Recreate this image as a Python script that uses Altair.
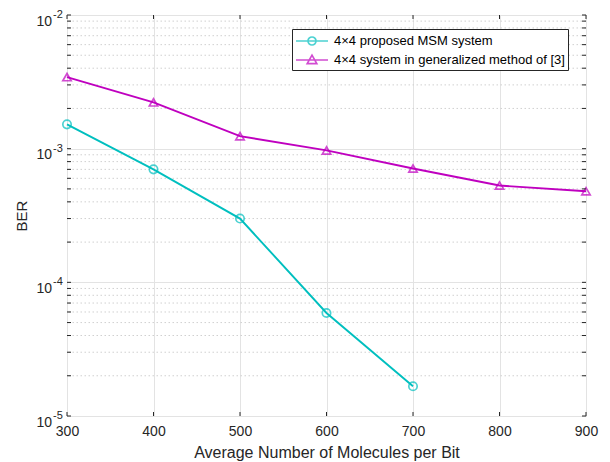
import altair as alt
import pandas as pd

# ---- data ----
series_names = ["4×4 proposed MSM system", "4×4 system in generalized method of [3]"]
series_colors = ["#00BFBF", "#BF00BF"]
series_shapes = ["circle", "triangle-up"]

proposed_x = [300, 400, 500, 600, 700]
proposed_ber = [1.52e-3, 7.0e-4, 3.0e-4, 5.9e-5, 1.67e-5]

general_x = [300, 400, 500, 600, 700, 800, 900]
general_ber = [3.43e-3, 2.22e-3, 1.24e-3, 9.7e-4, 7.1e-4, 5.3e-4, 4.8e-4]

x_ticks = [300, 400, 500, 600, 700, 800, 900]
y_major = [1e-5, 1e-4, 1e-3, 1e-2]
y_minor = [m * 10.0 ** e for e in (-5, -4, -3) for m in range(2, 10)]

# legend symbols: a line segment with the marker on it
legend_paths = [
    "M-2,0H2M-0.5,0A0.5,0.5 0 1,1 0.5,0A0.5,0.5 0 1,1 -0.5,0Z",
    "M-2,0H2M-0.6,0.45L0.6,0.45L0,-0.6Z",
]

W, H = 519, 401
FONT = "Liberation Sans"
TXT = "#262626"

df = pd.DataFrame(
    {"x": proposed_x + general_x,
     "ber": proposed_ber + general_ber,
     "series": [series_names[0]] * len(proposed_x) + [series_names[1]] * len(general_x)}
)
minor_df = pd.DataFrame({"ber": y_minor})
major_df = pd.DataFrame({"ber": y_major})
ytick_df = pd.DataFrame({"ber": y_major + y_minor})
xtick_df = pd.DataFrame({"x": x_ticks})

xscale = alt.Scale(domain=[300, 900], nice=False, zero=False)
yscale = alt.Scale(type="log", domain=[1e-5, 1e-2], nice=False)

def cscale():
    return alt.Scale(domain=series_names, range=series_colors)

x_axis = alt.Axis(values=x_ticks, title="Average Number of Molecules per Bit", ticks=False,
                  domain=False, grid=True, gridColor="#e3e3e3", gridWidth=1,
                  labelFont=FONT, labelFontSize=14, labelColor=TXT, labelPadding=8,
                  labelFlush=False, labelOverlap=False,
                  titleFont=FONT, titleFontSize=16, titleFontWeight="normal", titleColor=TXT,
                  titlePadding=6, format="d")
y_axis = alt.Axis(values=y_major, title="BER", ticks=False, domain=False, grid=True,
                  gridColor="#e3e3e3", gridWidth=1, labels=False,
                  titleFont=FONT, titleFontSize=15, titleFontWeight="normal", titleColor=TXT,
                  titlePadding=38)

X = alt.X("x:Q", scale=xscale, axis=x_axis)
Y = alt.Y("ber:Q", scale=yscale, axis=y_axis)

minor_grid = alt.Chart(minor_df).mark_rule(color="#d0d0d0", strokeWidth=1, strokeDash=[1.5, 2.5]).encode(
    y=Y
)

lines = alt.Chart(df).mark_line(strokeWidth=1.9).encode(
    x=X, y=Y,
    color=alt.Color("series:N", scale=cscale(), legend=None),
    detail="series:N",
)

points = alt.Chart(df).mark_point(filled=False, size=70, strokeWidth=1.7).encode(
    x=X, y=Y,
    color=alt.Color("series:N", scale=cscale(), legend=None),
    shape=alt.Shape("series:N", scale=alt.Scale(domain=series_names, range=series_shapes), legend=None),
)

legend_def = dict(
    title=None, orient="none", legendX=225, legendY=14, padding=3,
    fillColor="white", strokeColor="#262626",
    labelFont=FONT, labelFontSize=13, labelColor="black", labelLimit=400,
    symbolSize=256, symbolStrokeWidth=1.7, symbolOffset=8, labelOffset=13,
    rowPadding=2, symbolFillColor="transparent",
)

legend_layer = alt.Chart(df).transform_filter("false").mark_point(filled=False, strokeWidth=1.7).encode(
    x=X, y=Y,
    color=alt.Color("series:N", scale=cscale(), legend=alt.Legend(**legend_def)),
    shape=alt.Shape("series:N", scale=alt.Scale(domain=series_names, range=legend_paths),
                    legend=alt.Legend(**legend_def)),
)

# y tick labels as 10 with a raised exponent
ylab_base = alt.Chart(major_df).transform_calculate(t="'10'").mark_text(
    align="right", baseline="alphabetic", dy=10.5, font=FONT, fontSize=14, color=TXT
).encode(y=Y, x=alt.value(-15), text="t:N")
ylab_exp = alt.Chart(major_df).transform_calculate(
    t="'-' + (-round(log(datum.ber)/LN10))"
).mark_text(
    align="left", baseline="alphabetic", dy=3, font=FONT, fontSize=11, color=TXT
).encode(y=Y, x=alt.value(-14), text="t:N")

tick_col = "#262626"
ytl = alt.Chart(ytick_df).mark_rule(color=tick_col, strokeWidth=1).encode(
    y=Y, x=alt.value(0), x2=alt.value(4))
ytr = alt.Chart(ytick_df).mark_rule(color=tick_col, strokeWidth=1).encode(
    y=Y, x=alt.value(W - 4), x2=alt.value(W))
xtb = alt.Chart(xtick_df).mark_rule(color=tick_col, strokeWidth=1).encode(
    x=X, y=alt.value(H - 4), y2=alt.value(H))
xtt = alt.Chart(xtick_df).mark_rule(color=tick_col, strokeWidth=1).encode(
    x=X, y=alt.value(0), y2=alt.value(4))

chart = alt.layer(minor_grid, lines, points, legend_layer, ylab_base, ylab_exp,
                  ytl, ytr, xtb, xtt).resolve_scale(
    shape="independent", color="independent"
).properties(
    width=W, height=H,
    autosize=alt.AutoSizeParams(type="none"),
    padding={"left": 59, "top": 7, "right": 16, "bottom": 46},
).configure_view(
    stroke="#262626", strokeWidth=1
).configure(background="white")

chart.save("out.html", embed_options={"renderer": "svg", "actions": False})
